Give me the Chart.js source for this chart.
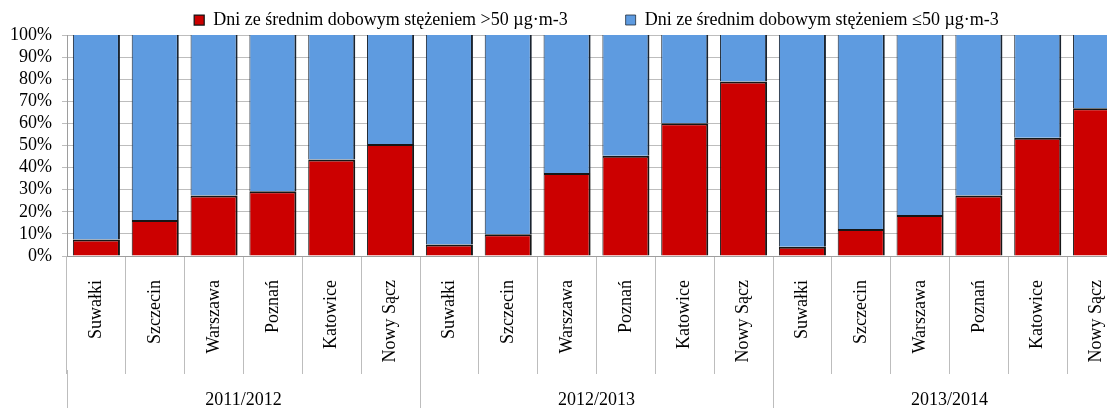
<!DOCTYPE html>
<html>
<head>
<meta charset="utf-8">
<script src="https://cdn.jsdelivr.net/npm/chart.js@4/dist/chart.umd.min.js"></script>
<style>
  html, body { margin: 0; padding: 0; background: #fff; overflow: hidden; }
  #wrap { width: 1130px; height: 408px; }
</style>
</head>
<body>
<div id="wrap"><canvas id="c" width="1130" height="408"></canvas></div>
<script>
// Heating seasons and measuring stations
const seasons = ['2011/2012', '2012/2013', '2013/2014'];
const cities = ['Suwałki', 'Szczecin', 'Warszawa', 'Poznań', 'Katowice', 'Nowy Sącz'];

// Share of days (%) with daily mean PM10 above 50 µg/m3
const above2011 = [7.5, 16.3, 27.4, 29.3, 43.7, 50.7];
const above2012 = [5.2, 9.8, 37.6, 45.4, 60.1, 79.0];
const above2013 = [4.2, 12.2, 18.5, 27.4, 53.5, 66.9];

// Share of days (%) with daily mean PM10 at or below 50 µg/m3
const below2011 = [92.5, 83.7, 72.6, 70.7, 56.3, 49.3];
const below2012 = [94.8, 90.2, 62.4, 54.6, 39.9, 21.0];
const below2013 = [95.8, 87.8, 81.5, 72.6, 46.5, 33.1];

// Y axis tick values
const yTicks = [0, 10, 20, 30, 40, 50, 60, 70, 80, 90, 100];

const labels = seasons.flatMap(() => cities);
const above = [...above2011, ...above2012, ...above2013];
const below = [...below2011, ...below2012, ...below2013];

const serif = "'Liberation Serif', 'Times New Roman', serif";
const font = { family: serif, size: 18 };
const gridGray = '#bdbdbd';
const axisGray = '#9e9e9e';

new Chart(document.getElementById('c'), {
  type: 'bar',
  data: {
    labels,
    datasets: [
      {
        label: 'Dni ze średnim dobowym stężeniem >50 µg·m-3',
        data: above,
        backgroundColor: '#cc0000',
        borderColor: '#161616',
        borderWidth: { top: 2, left: 1, right: 2, bottom: 0 },
        borderSkipped: false,
        stack: 's'
      },
      {
        label: 'Dni ze średnim dobowym stężeniem ≤50 µg·m-3',
        data: below,
        backgroundColor: '#5e9be0',
        borderColor: '#1a2430',
        borderWidth: { top: 0, left: 1, right: 2, bottom: 0 },
        borderSkipped: false,
        stack: 's'
      }
    ]
  },
  options: {
    responsive: false,
    animation: false,
    datasets: { bar: { categoryPercentage: 1, barPercentage: 0.8 } },
    layout: { padding: { top: -47, right: 4, left: 0, bottom: 0 } },
    plugins: {
      tooltip: { enabled: false },
      legend: {
        position: 'top',
        fullSize: false,
        maxHeight: 82,
        labels: {
          font,
          color: '#000',
          boxWidth: 10,
          boxHeight: 10,
          padding: 58
        }
      }
    },
    scales: {
      y: {
        stacked: true,
        min: 0,
        max: 100,
        afterBuildTicks: s => { s.ticks = yTicks.map(v => ({ value: v })); },
        ticks: { autoSkip: false, callback: v => v + '%', font, color: '#000', padding: 10 },
        grid: { color: gridGray, tickLength: 5 },
        border: { color: axisGray },
        afterFit: s => { s.width = 67; }
      },
      x: {
        stacked: true,
        offset: true,
        weight: 0,
        grid: { offset: true, drawOnChartArea: false, tickLength: 118, color: gridGray },
        border: { color: axisGray },
        ticks: { autoSkip: false, minRotation: 90, maxRotation: 90, padding: -94, font, color: '#000' },
        afterFit: s => { s.height = 114; }
      },
      x2: {
        type: 'category',
        position: 'bottom',
        labels: seasons,
        offset: true,
        weight: 1,
        grid: { offset: true, drawOnChartArea: false, tickLength: 40, color: gridGray },
        border: { display: false },
        ticks: { padding: -21, font, color: '#000', maxRotation: 0, autoSkip: false },
        afterFit: s => { s.height = 38; }
      }
    }
  }
});
</script>
</body>
</html>
